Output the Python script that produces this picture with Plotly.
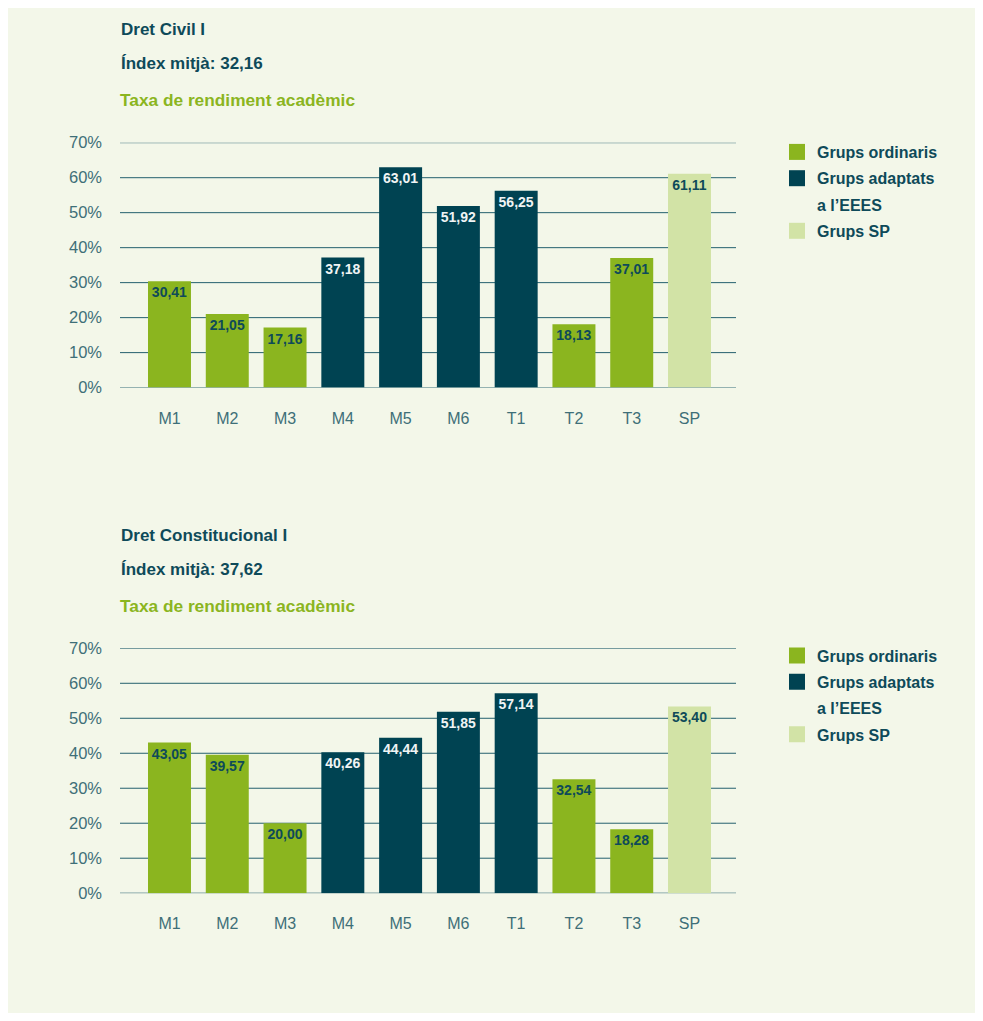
import plotly.graph_objects as go

# The page adds an 8px body margin, so the figure is laid out in page pixels minus 8.
W, H = 975, 1005
OFF = 8

categories = ["M1", "M2", "M3", "M4", "M5", "M6", "T1", "T2", "T3", "SP"]
group_of = ["ord", "ord", "ord", "ada", "ada", "ada", "ada", "ord", "ord", "sp"]

civil_values = [30.41, 21.05, 17.16, 37.18, 63.01, 51.92, 56.25, 18.13, 37.01, 61.11]
const_values = [43.05, 39.57, 20.00, 40.26, 44.44, 51.85, 57.14, 32.54, 18.28, 53.40]

charts = [
    {"title": "Dret Civil I", "index": "Índex mitjà: 32,16", "values": civil_values},
    {"title": "Dret Constitucional I", "index": "Índex mitjà: 37,62", "values": const_values},
]

subtitle = "Taxa de rendiment acadèmic"
y_ticks = [0, 10, 20, 30, 40, 50, 60, 70]
y_tick_labels = ["0%", "10%", "20%", "30%", "40%", "50%", "60%", "70%"]

legend_names = {"ord": "Grups ordinaris", "ada": "Grups adaptats", "sp": "Grups SP"}
legend_extra = "a l’EEES"

GREEN = "#8bb51f"
DARK = "#004352"
LIGHT = "#d2e3a6"
TEXT_DARK = "#0e4a59"
TICK_COL = "#3e6f78"
GRID = "#24606e"
PANEL = "#f3f7e9"
FONT = "Liberation Sans, Arial, Helvetica, sans-serif"

colors = {"ord": GREEN, "ada": DARK, "sp": LIGHT}
label_colors = {"ord": TEXT_DARK, "ada": "#f0f4f4", "sp": TEXT_DARK}


def fx(p):
    return (p - OFF) / W


def fy(p):
    return 1 - (p - OFF) / H


fig = go.Figure()

offset = 505.6
legend_tops = [135, 638.5]
shapes = []
annotations = []

for ci, ch in enumerate(charts):
    off = ci * offset
    xa = "x" if ci == 0 else "x2"
    ya = "y" if ci == 0 else "y2"
    leg = "legend" if ci == 0 else "legend2"
    vals = ch["values"]
    for g in ["ord", "ada", "sp"]:
        xs = [c for c, gg in zip(categories, group_of) if gg == g]
        ys = [v for v, gg in zip(vals, group_of) if gg == g]
        fig.add_trace(go.Bar(
            x=xs, y=ys, xaxis=xa, yaxis=ya, marker=dict(color=colors[g], line=dict(width=0)),
            texttemplate="%{y:.2f}", textposition="inside", insidetextanchor="end",
            textangle=0, constraintext="none",
            textfont=dict(family=FONT, size=14, color=label_colors[g], weight="bold"),
            showlegend=False, hoverinfo="skip",
        ))
    legend_items = [("ord", legend_names["ord"], GREEN), ("ada", legend_names["ada"], DARK),
                    ("extra", legend_extra, "rgba(0,0,0,0)"), ("sp", legend_names["sp"], LIGHT)]
    for key, name, col in legend_items:
        fig.add_trace(go.Scatter(
            x=[None], y=[None], xaxis=xa, yaxis=ya, mode="markers", name=name,
            marker=dict(symbol="square", size=16, color=col, line=dict(width=0)),
            legend=leg, legendgroup=f"{ci}-{key}", showlegend=True, hoverinfo="skip",
        ))
    for t in y_ticks:
        shapes.append(dict(type="line", xref="paper", yref=ya, x0=fx(120), x1=fx(736),
                           y0=t, y1=t, line=dict(color=GRID, width=1), layer="below"))
    annotations.append(dict(text=ch["title"], x=fx(118.5), y=fy(30 + off), xref="paper", yref="paper",
                            xanchor="left", yanchor="middle", showarrow=False,
                            font=dict(family=FONT, size=17, color=TEXT_DARK, weight="bold")))
    annotations.append(dict(text=ch["index"], x=fx(118.5), y=fy(63.5 + off), xref="paper", yref="paper",
                            xanchor="left", yanchor="middle", showarrow=False,
                            font=dict(family=FONT, size=17, color=TEXT_DARK, weight="bold")))
    annotations.append(dict(text=subtitle, x=fx(118), y=fy(100 + off), xref="paper", yref="paper",
                            xanchor="left", yanchor="middle", showarrow=False,
                            font=dict(family=FONT, size=17.3, color=GREEN, weight="bold")))

xdom = [fx(140.6), fx(718.4)]
axis_common_x = dict(type="category", categoryorder="array", categoryarray=categories,
                     showgrid=False, showline=False, zeroline=False, ticks="",
                     tickfont=dict(family=FONT, size=16, color=TICK_COL), automargin=False,
                     ticklabelstandoff=19, domain=xdom, fixedrange=True)
axis_common_y = dict(range=[0, 70], tickvals=y_ticks, ticktext=y_tick_labels,
                     showgrid=False, showline=False, zeroline=False, ticks="",
                     tickfont=dict(family=FONT, size=16.5, color=TICK_COL), automargin=False,
                     anchor="free", position=fx(120), ticklabelstandoff=18, fixedrange=True)

legend_common = dict(font=dict(family=FONT, size=16, color=TEXT_DARK, weight="bold"),
                     bgcolor="rgba(0,0,0,0)", borderwidth=0, tracegroupgap=2.5,
                     traceorder="grouped", xanchor="left", yanchor="top", itemclick=False,
                     itemdoubleclick=False, xref="container", yref="container")

fig.update_layout(
    width=W, height=H, margin=dict(l=0, r=0, t=0, b=0, pad=0, autoexpand=False),
    paper_bgcolor=PANEL, plot_bgcolor="rgba(0,0,0,0)",
    barmode="relative", bargap=0.256, separators=",.",
    font=dict(family=FONT),
    xaxis=dict(**axis_common_x, anchor="y"),
    yaxis=dict(**axis_common_y, domain=[fy(387.6), fy(142.7)]),
    xaxis2=dict(**axis_common_x, anchor="y2"),
    yaxis2=dict(**axis_common_y, domain=[fy(387.6 + offset), fy(142.7 + offset)]),
    legend=dict(**legend_common, x=fx(777), y=fy(legend_tops[0])),
    legend2=dict(**legend_common, x=fx(777), y=fy(legend_tops[1])),
    shapes=shapes, annotations=annotations,
    hovermode=False,
)

fig.write_html("out.html")
